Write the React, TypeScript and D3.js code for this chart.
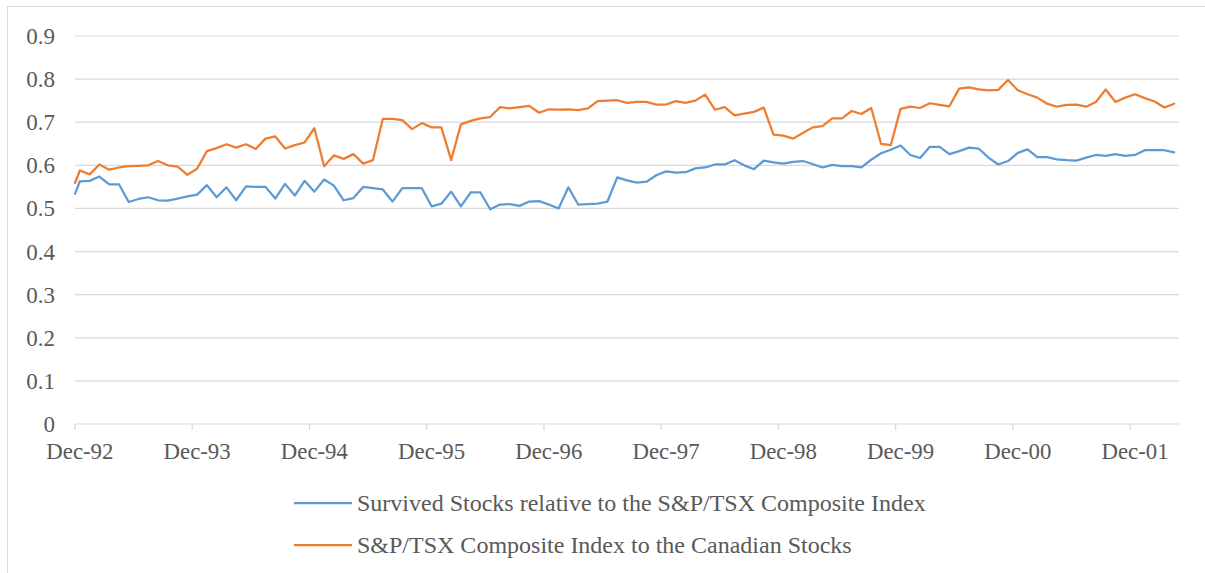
import React from "react";
import * as d3 from "d3";

// ratios, first value sits at the start of Dec-92,
// the rest are monthly observations Dec-92 .. Apr-02
const survived = [
  0.534,
  0.563, 0.564, 0.574, 0.556, 0.556, 0.515, 0.522, 0.526, 0.519, 0.518, 0.523, 0.528,
  0.532, 0.554, 0.526, 0.549, 0.519, 0.551, 0.55, 0.55, 0.523, 0.557, 0.53, 0.564,
  0.539, 0.567, 0.553, 0.519, 0.524, 0.55, 0.547, 0.544, 0.516, 0.547, 0.547, 0.547,
  0.505, 0.511, 0.539, 0.505, 0.537, 0.537, 0.498, 0.509, 0.51, 0.506, 0.516, 0.517,
  0.509, 0.5, 0.549, 0.509, 0.51, 0.511, 0.516, 0.572, 0.565, 0.56, 0.562, 0.577,
  0.586, 0.583, 0.584, 0.593, 0.595, 0.602, 0.602, 0.612, 0.6, 0.591, 0.611, 0.607,
  0.604, 0.608, 0.61, 0.603, 0.595, 0.601, 0.598, 0.598, 0.595, 0.613, 0.628, 0.636,
  0.646, 0.624, 0.617, 0.643, 0.643, 0.626, 0.633, 0.641, 0.639, 0.618, 0.602, 0.61,
  0.629, 0.637, 0.619, 0.619, 0.614, 0.612, 0.611, 0.618, 0.624, 0.622, 0.626, 0.622,
  0.624, 0.635, 0.635, 0.635, 0.63,
];

const composite = [
  0.559,
  0.588, 0.579, 0.602, 0.59, 0.595, 0.598, 0.599, 0.6, 0.61, 0.6, 0.597, 0.578,
  0.592, 0.633, 0.64, 0.649, 0.641, 0.649, 0.638, 0.662, 0.667, 0.639, 0.647, 0.653,
  0.686, 0.598, 0.623, 0.615, 0.626, 0.604, 0.612, 0.708, 0.708, 0.705, 0.684, 0.698,
  0.688, 0.688, 0.612, 0.695, 0.703, 0.709, 0.712, 0.735, 0.732, 0.735, 0.738, 0.722,
  0.73, 0.729, 0.73, 0.728, 0.732, 0.749, 0.75, 0.751, 0.745, 0.747, 0.747, 0.741,
  0.741, 0.749, 0.745, 0.75, 0.764, 0.729, 0.735, 0.716, 0.72, 0.724, 0.734, 0.671,
  0.669, 0.662, 0.675, 0.688, 0.691, 0.709, 0.709, 0.726, 0.719, 0.733, 0.65, 0.647,
  0.731, 0.736, 0.733, 0.744, 0.74, 0.737, 0.778, 0.781, 0.776, 0.774, 0.775, 0.798,
  0.774, 0.765, 0.757, 0.743, 0.736, 0.74, 0.741, 0.736, 0.747, 0.776, 0.747, 0.757,
  0.765, 0.756, 0.748, 0.734, 0.743,
];

// position of each observation, in months since the start of Dec-92
const monthPos = [0, ...d3.range(survived.length - 1).map((k) => k + 0.5)];

const tickLabels = ["Dec-92", "Dec-93", "Dec-94", "Dec-95", "Dec-96", "Dec-97", "Dec-98", "Dec-99", "Dec-00", "Dec-01"];
const yTicks = [0, 0.1, 0.2, 0.3, 0.4, 0.5, 0.6, 0.7, 0.8, 0.9];

const seriesList = [
  { name: "Survived Stocks relative to the S&P/TSX Composite Index", values: survived, color: "#5b9bd5" },
  { name: "S&P/TSX Composite Index to the Canadian Stocks", values: composite, color: "#ed7d31" },
];

const W = 1205;
const H = 573;
const FONT = "'Liberation Serif', 'Times New Roman', serif";
const TEXT = "#595959";
const GRID = "#d9d9d9";

export default function App() {
  const x = d3.scaleLinear().domain([0, 113]).range([75, 1179]);
  const y = d3.scaleLinear().domain([0, 0.9]).range([424, 36]);

  const line = d3
    .line<number>()
    .x((_, i) => x(monthPos[i]))
    .y((d) => y(d));

  return (
    <div style={{ position: "absolute", left: 0, top: 0 }}>
      <svg width={W} height={H} style={{ display: "block", fontFamily: FONT }}>
        <rect x={0} y={0} width={W} height={H} fill="#fff" />
        <rect x={7.5} y={6.5} width={W + 20} height={H + 20} fill="none" stroke={GRID} strokeWidth={1} />

        {/* grid + y labels */}
        {yTicks.map((t) => (
          <g key={t}>
            {t > 0 && (
              <line x1={x(0)} x2={x(113)} y1={y(t)} y2={y(t)} stroke={GRID} strokeWidth={1.2} />
            )}
            <text x={55} y={y(t)} dy="0.35em" textAnchor="end" fontSize={23} fill={TEXT}>
              {t === 0 ? "0" : t.toFixed(1)}
            </text>
          </g>
        ))}

        {/* x axis */}
        <line x1={x(0)} x2={x(113)} y1={y(0)} y2={y(0)} stroke={GRID} strokeWidth={1.2} />
        {tickLabels.map((lab, j) => (
          <g key={lab}>
            <line x1={x(j * 12)} x2={x(j * 12)} y1={y(0)} y2={y(0) + 6} stroke={GRID} strokeWidth={1.2} />
            <text x={x(j * 12 + 0.5)} y={459} textAnchor="middle" fontSize={22.8} fill={TEXT}>
              {lab}
            </text>
          </g>
        ))}

        {/* series */}
        {seriesList.map((s) => (
          <path
            key={s.name}
            d={line(s.values) ?? ""}
            fill="none"
            stroke={s.color}
            strokeWidth={2.25}
            strokeLinejoin="round"
            strokeLinecap="round"
          />
        ))}

        {/* legend */}
        {seriesList.map((s, i) => (
          <g key={s.name} transform={`translate(0, ${503 + i * 42})`}>
            <line x1={294} x2={352} y1={0} y2={0} stroke={s.color} strokeWidth={2.25} />
            <text x={357} y={0} dy="0.33em" fontSize={24} fill={TEXT}>
              {s.name}
            </text>
          </g>
        ))}
      </svg>
    </div>
  );
}
